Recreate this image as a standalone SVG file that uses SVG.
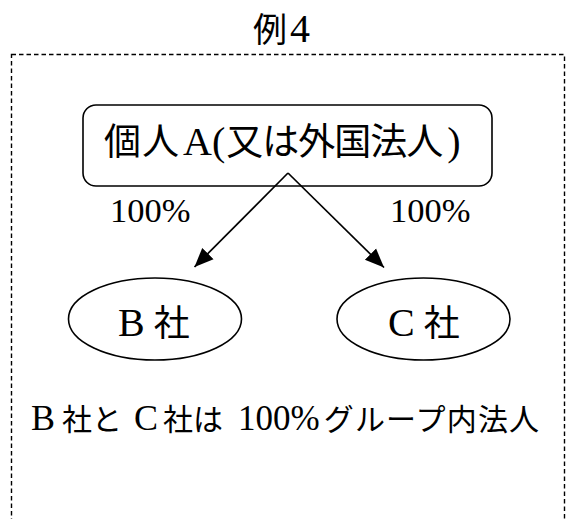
<svg xmlns="http://www.w3.org/2000/svg" width="567" height="519" viewBox="0 0 567 519">
<style>
text{font-family:"Liberation Serif","Noto Sans CJK JP",serif;fill:#000}
.shape{fill:#fff;stroke:#000;stroke-width:1.6}
.conn{stroke:#000;stroke-width:1.7;fill:none}
</style>
<defs>
<marker id="ah" viewBox="0 0 10 10" refX="10" refY="5" markerWidth="19" markerHeight="19" markerUnits="userSpaceOnUse" orient="auto"><path d="M0,0.8 L10,5 L0,9.2 z" fill="#000"/></marker>
</defs>
<rect fill="#fff" width="567" height="519"/>
<text x="253" y="42"><tspan font-size="34">例</tspan><tspan dx="3" font-size="40">4</tspan></text>
<rect id="frame" x="11.5" y="54.5" width="553" height="480" fill="none" stroke="#000" stroke-width="1.4" stroke-dasharray="4.5,3"/>
<g id="nodeA">
<rect class="shape" x="83" y="105" width="409" height="81" rx="13"/>
<text x="104" y="155"><tspan font-size="37" letter-spacing="1">個人</tspan><tspan dx="3" font-size="40">A(</tspan><tspan dx="1" font-size="37" letter-spacing="-1">又は外国法人</tspan><tspan dx="5" font-size="40">)</tspan></text>
</g>
<g id="connectors">
<line class="conn" x1="288" y1="173" x2="194.5" y2="267" marker-end="url(#ah)"/>
<line class="conn" x1="288" y1="173" x2="384" y2="267.5" marker-end="url(#ah)"/>
<text x="110" y="222" font-size="34.5">100%</text>
<text x="390" y="222" font-size="34.5">100%</text>
</g>
<g id="nodeB">
<ellipse class="shape" cx="155" cy="319" rx="86.5" ry="41"/>
<text x="118" y="336"><tspan font-size="40">B</tspan><tspan font-size="36"> 社</tspan></text>
</g>
<g id="nodeC">
<ellipse class="shape" cx="423.5" cy="319" rx="86.5" ry="41"/>
<text x="388" y="336"><tspan font-size="40">C</tspan><tspan font-size="36"> 社</tspan></text>
</g>
<text x="31" y="430"><tspan font-size="36">B</tspan><tspan font-size="28"> </tspan><tspan font-size="30">社と</tspan><tspan font-size="48"> </tspan><tspan font-size="36">C</tspan><tspan font-size="20"> </tspan><tspan font-size="30">社は</tspan><tspan font-size="60"> </tspan><tspan font-size="35">100%</tspan><tspan dx="4" font-size="30" letter-spacing="1.2">グループ内法人</tspan></text>
</svg>
